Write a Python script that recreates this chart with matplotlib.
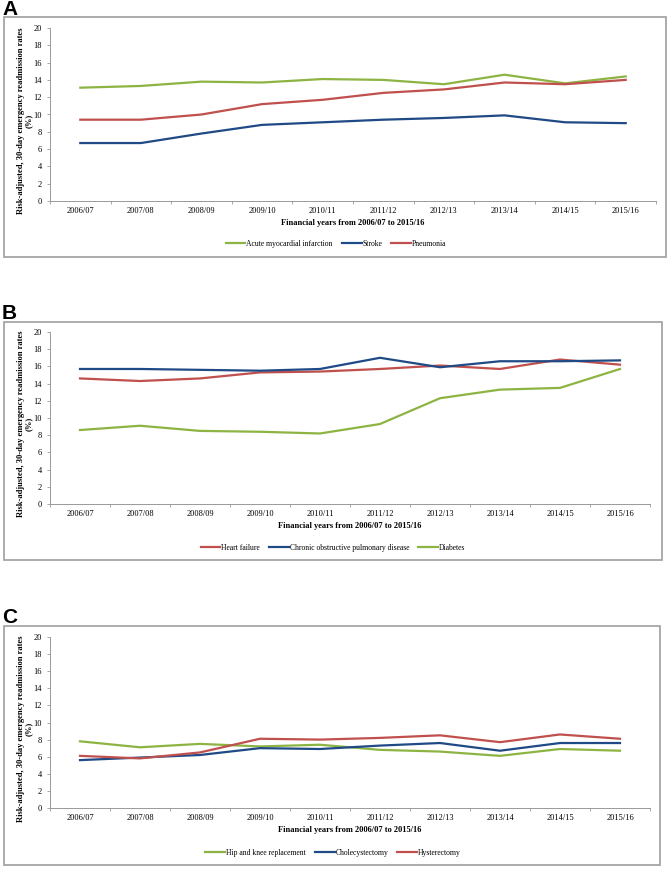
import matplotlib
matplotlib.use('Agg')
import matplotlib.pyplot as plt
from matplotlib.patches import Rectangle

# 数据
years = ['2006/07', '2007/08', '2008/09', '2009/10', '2010/11',
         '2011/12', '2012/13', '2013/14', '2014/15', '2015/16']

ami = [13.1, 13.3, 13.8, 13.7, 14.1, 14.0, 13.5, 14.6, 13.6, 14.4]
stroke = [6.7, 6.7, 7.8, 8.8, 9.1, 9.4, 9.6, 9.9, 9.1, 9.0]
pneumonia = [9.4, 9.4, 10.0, 11.2, 11.7, 12.5, 12.9, 13.7, 13.5, 14.0]

heart_failure = [14.6, 14.3, 14.6, 15.3, 15.4, 15.7, 16.1, 15.7, 16.8, 16.2]
copd = [15.7, 15.7, 15.6, 15.5, 15.7, 17.0, 15.9, 16.6, 16.6, 16.7]
diabetes = [8.6, 9.1, 8.5, 8.4, 8.2, 9.3, 12.3, 13.3, 13.5, 15.7]

hip_knee = [7.8, 7.1, 7.5, 7.2, 7.4, 6.8, 6.6, 6.1, 6.9, 6.7]
cholecystectomy = [5.6, 5.9, 6.2, 7.0, 6.9, 7.3, 7.6, 6.7, 7.6, 7.6]
hysterectomy = [6.1, 5.8, 6.5, 8.1, 8.0, 8.2, 8.5, 7.7, 8.6, 8.1]

GREEN = '#8db443'
BLUE = '#1f4a86'
RED = '#c0504d'

W, H = 668, 869
fig = plt.figure(figsize=(W / 100, H / 100), dpi=100)
plt.rcParams['font.family'] = ['Liberation Serif', 'DejaVu Serif']

panels = [
    # 字母, 字母y, 框(上,下,右), 坐标轴(上,下,右), 图例y, 图例中心x, 系列
    ('A', 0, (17, 257, 666), (28, 201, 656), 244, 336,
     [('Acute myocardial infarction', ami, GREEN),
      ('Stroke', stroke, BLUE),
      ('Pneumonia', pneumonia, RED)]),
    ('B', 304, (322, 560, 662), (332, 504, 650), 548, 333,
     [('Heart failure', heart_failure, RED),
      ('Chronic obstructive pulmonary disease', copd, BLUE),
      ('Diabetes', diabetes, GREEN)]),
    ('C', 608, (626, 865, 660), (637, 808, 650), 853, 333,
     [('Hip and knee replacement', hip_knee, GREEN),
      ('Cholecystectomy', cholecystectomy, BLUE),
      ('Hysterectomy', hysterectomy, RED)]),
]

for letter, ly, box, axpos, leg_y, leg_x, series in panels:
    btop, bbot, bright = box
    fig.patches.append(Rectangle((4 / W, 1 - bbot / H), (bright - 4) / W, (bbot - btop) / H,
                                 transform=fig.transFigure, fill=False,
                                 edgecolor='#a6a6a6', linewidth=1.3))
    fig.text(2 / W, 1 - ly / H, letter, ha='left', va='top', fontsize=15,
             fontweight='bold', family='Liberation Sans')

    atop, abot, aright = axpos
    ax = fig.add_axes([50 / W, 1 - abot / H, (aright - 50) / W, (abot - atop) / H])
    x = range(len(years))
    handles = []
    for name, vals, col in series:
        h, = ax.plot(x, vals, color=col, linewidth=1.6, label=name)
        handles.append(h)

    ax.set_ylim(0, 20)
    ax.set_xlim(-0.5, len(years) - 0.5)
    ax.set_yticks(range(0, 21, 2))
    ax.set_xticks(list(x))
    ax.set_xticklabels(years)
    ax.set_xticks([i - 0.5 for i in range(len(years) + 1)], minor=True)
    ax.tick_params(axis='x', which='major', length=0, pad=4, labelsize=6)
    ax.tick_params(axis='x', which='minor', length=2.5, width=0.6, color='#999999')
    ax.tick_params(axis='y', length=2, width=0.6, color='#999999', labelsize=6, pad=4)
    for s in ['top', 'right']:
        ax.spines[s].set_visible(False)
    for s in ['left', 'bottom']:
        ax.spines[s].set_color('#999999')
        ax.spines[s].set_linewidth(0.7)

    ax.set_xlabel('Financial years from 2006/07 to 2015/16', fontsize=6,
                  fontweight='bold', labelpad=3)
    fig.text(25 / W, 1 - (atop + abot + 12) / 2 / H,
             'Risk-adjusted, 30-day emergency readmission rates\n(%)',
             rotation=90, ha='center', va='center', fontsize=6.1,
             fontweight='bold', linespacing=1.0, multialignment='center')

    fig.legend(handles=handles, loc='center', bbox_to_anchor=(leg_x / W, 1 - leg_y / H),
               ncol=3, frameon=False, fontsize=5.5, handlelength=2.6,
               handletextpad=0.1, columnspacing=1.2)

fig.savefig('out.png', dpi=100)
